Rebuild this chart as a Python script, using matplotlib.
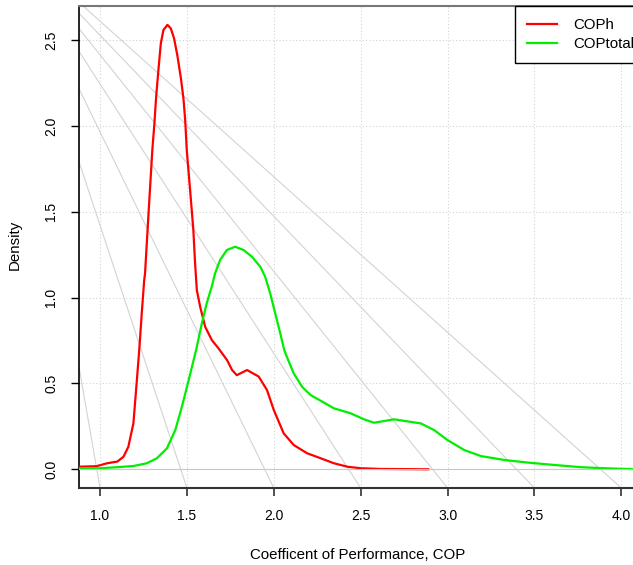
import matplotlib
matplotlib.use("Agg")
import matplotlib.pyplot as plt

plt.rcParams['font.family'] = ['Liberation Sans', 'DejaVu Sans']

# density of COPh
coph_x = [0.88, 0.98, 1.04, 1.10, 1.135, 1.163, 1.192, 1.212, 1.227, 1.240,
          1.254, 1.259, 1.279, 1.301, 1.313, 1.323, 1.336, 1.350, 1.365, 1.388,
          1.407, 1.426, 1.445, 1.465, 1.480, 1.490, 1.499, 1.518, 1.537, 1.547,
          1.557, 1.576, 1.605, 1.643, 1.681, 1.731, 1.760, 1.787, 1.846, 1.913,
          1.961, 2.0, 2.057, 2.115, 2.192, 2.27, 2.346, 2.423, 2.5, 2.615,
          2.75, 2.89]
coph_y = [0.015, 0.018, 0.035, 0.045, 0.073, 0.131, 0.267, 0.519, 0.713, 0.907,
          1.10, 1.14, 1.488, 1.86, 2.015, 2.17, 2.326, 2.481, 2.559, 2.588,
          2.568, 2.51, 2.41, 2.28, 2.16, 2.034, 1.86, 1.63, 1.394, 1.20,
          1.044, 0.947, 0.83, 0.753, 0.705, 0.636, 0.578, 0.548, 0.578, 0.54,
          0.461, 0.345, 0.209, 0.141, 0.093, 0.064, 0.035, 0.015, 0.006, 0.002,
          0.001, 0.0]

# density of COPtotal
coptot_x = [0.879, 1.0, 1.096, 1.192, 1.269, 1.327, 1.385, 1.433, 1.471, 1.510,
            1.553, 1.586, 1.614, 1.643, 1.662, 1.691, 1.730, 1.778, 1.826, 1.874,
            1.922, 1.950, 1.979, 2.008, 2.037, 2.060, 2.077, 2.115, 2.163, 2.212,
            2.27, 2.346, 2.442, 2.519, 2.577, 2.692, 2.846, 2.923, 3.0, 3.096,
            3.192, 3.327, 3.462, 3.615, 3.769, 3.904, 4.09]
coptot_y = [0.005, 0.006, 0.012, 0.019, 0.035, 0.064, 0.122, 0.228, 0.364, 0.519,
            0.695, 0.850, 0.967, 1.064, 1.141, 1.219, 1.277, 1.296, 1.277, 1.238,
            1.180, 1.122, 1.025, 0.909, 0.792, 0.695, 0.650, 0.558, 0.48, 0.432,
            0.399, 0.355, 0.326, 0.291, 0.271, 0.291, 0.267, 0.228, 0.170, 0.112,
            0.077, 0.054, 0.039, 0.025, 0.012, 0.006, 0.0]

# grey guide lines: x where they meet the bottom axis, all running to one pivot
guide_levels = [1.0, 1.5, 2.0, 2.5, 3.0, 3.5, 4.0]
guide_pivot = (0.448, 3.11)

xticks = [1.0, 1.5, 2.0, 2.5, 3.0, 3.5, 4.0]
yticks = [0.0, 0.5, 1.0, 1.5, 2.0, 2.5]
xlim = (0.879, 4.09)
ylim = (-0.109, 2.698)

fig = plt.figure(figsize=(6.33, 5.65), dpi=100)
ax = fig.add_axes([79 / 633, 77 / 565, 558 / 633, 482 / 565])
ax.set_xlim(xlim)
ax.set_ylim(ylim)

for v in xticks:
    ax.axvline(v, color='#d3d3d3', lw=0.8, ls=(0, (1, 2)), zorder=0)
for v in yticks[1:]:
    ax.axhline(v, color='#d3d3d3', lw=0.8, ls=(0, (1, 2)), zorder=0)

for lv in guide_levels:
    ax.plot([lv, guide_pivot[0]], [ylim[0], guide_pivot[1]],
            color='#d3d3d3', lw=0.8, zorder=1)

ax.plot(coph_x, coph_y, color='#ff0000', lw=1.6, label='COPh', zorder=3)
ax.plot(coptot_x, coptot_y, color='#00ee00', lw=1.6, label='COPtotal', zorder=3)
ax.axhline(0, color='#c8c8c8', lw=0.8, zorder=4)

ax.set_xticks(xticks)
ax.set_yticks(yticks)
ax.set_xticklabels(['%.1f' % v for v in xticks])
ax.set_yticklabels(['%.1f' % v for v in yticks], rotation=90, va='center')
ax.tick_params(axis='x', length=6, width=1.2, pad=9, labelsize=10, color='#333333')
ax.tick_params(axis='y', length=6, width=1.0, pad=9, labelsize=10)

ax.spines['left'].set_color('black')
ax.spines['left'].set_linewidth(1.2)
ax.spines['bottom'].set_color('#333333')
ax.spines['bottom'].set_linewidth(1.5)
ax.spines['top'].set_color('#777777')
ax.spines['top'].set_linewidth(1.5)
ax.spines['right'].set_visible(False)

ax.set_xlabel('Coefficent of Performance, COP', fontsize=10.8)
ax.xaxis.set_label_coords(0.5, -0.139)
ax.xaxis.label.set_va('center')
ax.set_ylabel('Density', fontsize=10.8)
ax.yaxis.set_label_coords(-0.115, 0.505)
ax.yaxis.label.set_va('center')

leg = ax.legend(loc='upper left', bbox_to_anchor=((515 - 79) / 558, 1.0),
                fontsize=10.8, frameon=True, fancybox=False, borderaxespad=0,
                borderpad=0.8, labelspacing=0.33, handlelength=2.0,
                handletextpad=1.05)
leg.get_frame().set_edgecolor('black')
leg.get_frame().set_linewidth(1.0)
leg.get_frame().set_alpha(1.0)

fig.savefig('out.png', dpi=100)
